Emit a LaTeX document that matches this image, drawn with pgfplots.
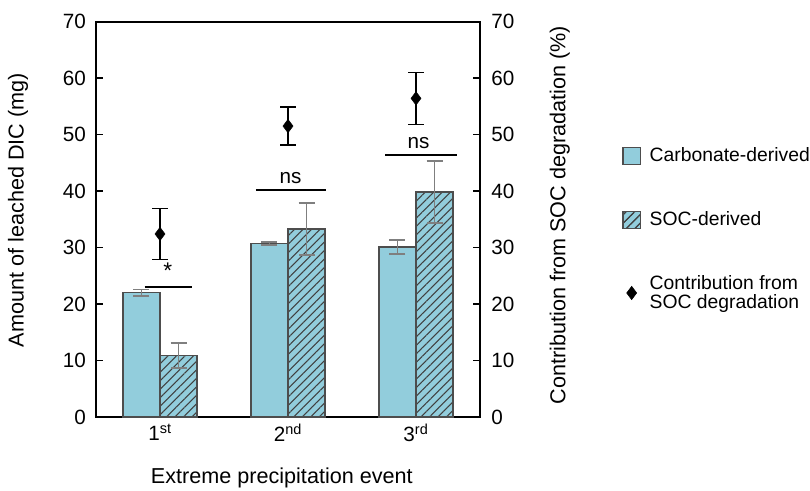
\documentclass[border=0pt]{standalone}
\usepackage{fontspec}
\setmainfont{Liberation Sans}
\usepackage{pgfplots}
\pgfplotsset{compat=1.18}
\usetikzlibrary{patterns.meta}

\definecolor{barblue}{HTML}{92CDDC}
\definecolor{barline}{HTML}{4D4D4D}
\definecolor{errgray}{HTML}{7F7F7F}

\begin{document}
\begin{tikzpicture}
\useasboundingbox (-72pt,-54.75pt) rectangle (535.5pt,312.75pt);
\begin{axis}[
  at={(0pt,0pt)}, anchor=south west,
  width=288pt, height=296.6pt, scale only axis,
  xmin=-0.5, xmax=2.5,
  ymin=0, ymax=70,
  ytick={0,10,...,70},
  xtick={0,1,2},
  xticklabels={1\textsuperscript{st},2\textsuperscript{nd},3\textsuperscript{rd}},
  x tick style={draw=none},
  y tick style={black, line width=1pt},
  major tick length=5pt,
  axis line style={black, line width=1.5pt},
  tick label style={font=\fontsize{15.5}{18}\selectfont},
  yticklabel style={xshift=-4pt},
  xticklabel style={yshift=-2pt},
  /pgf/number format/assume math mode=true,
  xlabel={Extreme precipitation event},
  ylabel={Amount of leached DIC (mg)},
  label style={font=\fontsize{16.2}{19}\selectfont},
  xlabel style={at={(axis description cs:0.484,-0.154)}, anchor=center},
  ylabel style={at={(axis description cs:-0.203,0.523)}, anchor=center},
  legend style={at={(1.370,0.688)}, anchor=north west, draw=none,
    fill=none, inner sep=0pt, row sep=32pt, cells={anchor=west},
    font=\fontsize{14.5}{17}\selectfont},
]
% carbonate-derived
\addplot[ybar, bar width=0.29, bar shift=0, fill=barblue, draw=barline,
  line width=1pt,
  legend image code/.code={\draw[fill=barblue, draw=barline, line width=1pt]
    (0pt,-6.5pt) rectangle (13pt,6.5pt); \path (17.5pt,0pt);},
  error bars/.cd, y dir=both, y explicit,
  error bar style={errgray, line width=1.2pt},
  error mark options={errgray, rotate=90, mark size=6pt, line width=1.2pt}]
  coordinates {(-0.145,22.0) +- (0,0.6) (0.855,30.7) +- (0,0.3) (1.855,30.1) +- (0,1.2)};
\addlegendentry{Carbonate-derived}
% SOC-derived
\addplot[ybar, bar width=0.29, bar shift=0, fill=barblue, draw=barline,
  line width=1pt,
  postaction={pattern={Lines[angle=45,distance=4.5pt,line width=0.8pt]},
    pattern color=black!75},
  legend image code/.code={\draw[fill=barblue, draw=barline, line width=1pt,
    postaction={pattern={Lines[angle=45,distance=4.5pt,line width=0.8pt]},
    pattern color=black!75}]
    (0pt,-6.5pt) rectangle (13pt,6.5pt); \path (17.5pt,0pt);},
  error bars/.cd, y dir=both, y explicit,
  error bar style={errgray, line width=1.2pt},
  error mark options={errgray, rotate=90, mark size=6pt, line width=1.2pt}]
  coordinates {(0.145,10.9) +- (0,2.2) (1.145,33.3) +- (0,4.6) (2.145,39.8) +- (0,5.5)};
\addlegendentry{SOC-derived}
% contribution from SOC degradation
\addplot[only marks, mark=diamond*, mark size=5pt, black,
  legend image code/.code={\path (0pt,0pt) (17.5pt,0pt);
    \pgftransformshift{\pgfpoint{6.5pt}{0pt}}\pgfuseplotmark{diamond*}},
  error bars/.cd, y dir=both, y explicit,
  error bar style={black, line width=1.2pt},
  error mark options={black, rotate=90, mark size=6pt, line width=1.2pt}]
  coordinates {(0,32.4) +- (0,4.5) (1,51.5) +- (0,3.4) (2,56.4) +- (0,4.6)};
\addlegendentry{\shortstack[l]{Contribution from\\SOC degradation}}

% significance
\draw[line width=1.5pt] (axis cs:-0.12,23.0) -- (axis cs:0.25,23.0);
\node[font=\fontsize{17}{20}\selectfont] at (axis cs:0.06,25.9) {*};
\draw[line width=1.5pt] (axis cs:0.75,40.2) -- (axis cs:1.30,40.2);
\node[anchor=south, font=\fontsize{15.5}{18}\selectfont] at (axis cs:1.02,40.4) {ns};
\draw[line width=1.5pt] (axis cs:1.76,46.4) -- (axis cs:2.32,46.4);
\node[anchor=south, font=\fontsize{15.5}{18}\selectfont] at (axis cs:2.02,46.6) {ns};
\end{axis}

\begin{axis}[
  at={(0pt,0pt)}, anchor=south west,
  width=288pt, height=296.6pt, scale only axis,
  xmin=-0.5, xmax=2.5,
  ymin=0, ymax=70,
  ytick={0,10,...,70},
  axis x line=none,
  axis y line*=right,
  axis line style={draw=none},
  y tick style={draw=none},
  tick label style={font=\fontsize{15.5}{18}\selectfont},
  yticklabel style={xshift=5pt},
  /pgf/number format/assume math mode=true,
  ylabel={Contribution from SOC degradation (\%)},
  label style={font=\fontsize{16.2}{19}\selectfont},
  ylabel style={at={(axis description cs:1.208,0.51)}, anchor=center},
]
\addplot[draw=none] coordinates {(0,0)};
\end{axis}
\end{tikzpicture}
\end{document}
